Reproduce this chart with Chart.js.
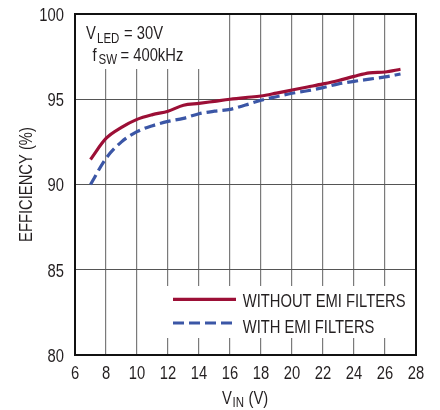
<!DOCTYPE html>
<html><head><meta charset="utf-8">
<script src="https://cdn.jsdelivr.net/npm/chart.js@4"></script>
<style>html,body{margin:0;padding:0;background:#fff}#wrap{width:440px;height:410px;position:relative}</style>
</head><body><div id="wrap"><canvas id="c" width="440" height="410"></canvas></div>
<script>
const vin = [7,8,9,10,11,12,13,14,15,16,17,18,19,20,21,22,23,24,25,26,27];
const effWithout = [91.47,92.7,93.35,93.82,94.1,94.3,94.65,94.76,94.88,95.0,95.1,95.19,95.36,95.54,95.72,95.9,96.1,96.34,96.55,96.6,96.76];
const effWith = [90.0,91.53,92.5,93.1,93.45,93.7,93.88,94.15,94.3,94.41,94.66,94.94,95.15,95.35,95.5,95.68,95.9,96.05,96.18,96.31,96.48];
const xTicks = [6,8,10,12,14,16,18,20,22,24,26,28];
const yTicks = [80,85,90,95,100];
const seriesLabels = ['WITHOUT EMI FILTERS','WITH EMI FILTERS'];

const FAMILY = '"Liberation Sans Narrow", "Arial Narrow", "Liberation Sans", Arial, sans-serif';
const SX = 0.82;   // horizontal condensing to mimic a narrow face
const TXT = '#231f20';
const RED = '#9c0f36';
const BLUE = '#3b56a6';
const GRID = '#7a7a7a';

function toPts(xs, ys){ return xs.map((x,i)=>({x:x, y:ys[i]})); }

function drawText(ctx, txt, x, y, size, align){
  ctx.save();
  ctx.font = size + 'px ' + FAMILY;
  ctx.textBaseline = 'alphabetic';
  ctx.textAlign = 'left';
  const w = ctx.measureText(txt).width * SX;
  const x0 = align === 'right' ? x - w : (align === 'center' ? x - w/2 : x);
  ctx.translate(x0, y);
  ctx.scale(SX, 1);
  ctx.fillStyle = TXT;
  ctx.fillText(txt, 0, 0);
  ctx.restore();
  return w;
}

const overlay = {
  id: 'overlay',
  beforeDatasetsDraw(chart){
    const ctx = chart.ctx;
    ctx.save();
    ctx.fillStyle = '#fff';
    ctx.fillRect(77, 15, 140, 54);      // annotation box
    ctx.fillRect(162, 286, 252, 52);    // legend box
    ctx.restore();
  },
  afterDatasetsDraw(chart){
    const ctx = chart.ctx;
    const a = chart.chartArea;
    ctx.save();
    // frame
    ctx.strokeStyle = '#111';
    ctx.lineWidth = 2;
    ctx.strokeRect(a.left, a.top, a.right - a.left, a.bottom - a.top);

    // tick labels from the scales
    const xs = chart.scales.x, ys = chart.scales.y;
    xs.ticks.forEach(t => drawText(ctx, String(t.value), xs.getPixelForValue(t.value), 379.3, 18, 'center'));
    ys.ticks.forEach(t => drawText(ctx, String(t.value), 64, ys.getPixelForValue(t.value) + 6.8, 18, 'right'));

    // annotation
    drawText(ctx, 'V', 86, 39.3, 18);
    drawText(ctx, 'LED', 97, 43.3, 14);
    drawText(ctx, '= 30V', 124, 39.3, 18);
    drawText(ctx, 'f', 92.5, 60.7, 18);
    drawText(ctx, 'SW', 98.5, 64.2, 14);
    drawText(ctx, '= 400kHz', 120.5, 60.7, 18);

    // x axis title
    drawText(ctx, 'V', 222, 403.5, 18);
    drawText(ctx, 'IN', 232.5, 407, 14);
    drawText(ctx, '(V)', 248.5, 403.5, 18);

    // y axis title
    ctx.save();
    ctx.translate(31.7, (a.top + a.bottom)/2);
    ctx.rotate(-Math.PI/2);
    drawText(ctx, 'EFFICIENCY (%)', 0, 0, 18, 'center');
    ctx.restore();

    // legend
    const ds = chart.data.datasets;
    const rows = [299.3, 323];
    const textBase = [306.5, 332.5];
    ds.forEach((d, i) => {
      ctx.save();
      ctx.strokeStyle = d.borderColor;
      ctx.lineWidth = d.borderWidth;
      ctx.setLineDash(d.borderDash || []);
      ctx.beginPath();
      ctx.moveTo(173, rows[i]);
      ctx.lineTo(236, rows[i]);
      ctx.stroke();
      ctx.restore();
      drawText(ctx, d.label, 242.7, textBase[i], 18);
    });
    ctx.restore();
  }
};

new Chart(document.getElementById('c'), {
  type: 'line',
  data: {
    datasets: [
      { label: seriesLabels[0], data: toPts(vin, effWithout), borderColor: RED, borderWidth: 3.2,
        pointRadius: 0, fill: false, cubicInterpolationMode: 'monotone' },
      { label: seriesLabels[1], data: toPts(vin, effWith), borderColor: BLUE, borderWidth: 3.2,
        borderDash: [11, 5], pointRadius: 0, fill: false, cubicInterpolationMode: 'monotone' }
    ]
  },
  options: {
    responsive: false,
    animation: false,
    devicePixelRatio: 1,
    layout: { padding: { top: 14, right: 24, left: 0, bottom: 0 } },
    plugins: { legend: { display: false }, tooltip: { enabled: false } },
    scales: {
      x: {
        type: 'linear', min: 6, max: 28,
        afterBuildTicks: s => { s.ticks = xTicks.map(v => ({ value: v })); },
        afterFit: s => { s.height = 55; },
        ticks: { display: false },
        grid: { color: c => (c.tick && (c.tick.value === 6 || c.tick.value === 28)) ? 'rgba(0,0,0,0)' : GRID,
                lineWidth: 1.2, drawTicks: false },
        border: { display: false }
      },
      y: {
        type: 'linear', min: 80, max: 100,
        afterBuildTicks: s => { s.ticks = yTicks.map(v => ({ value: v })); },
        afterFit: s => { s.width = 75; },
        ticks: { display: false },
        grid: { color: c => (c.tick && (c.tick.value === 80 || c.tick.value === 100)) ? 'rgba(0,0,0,0)' : '#555',
                lineWidth: 1, drawTicks: false },
        border: { display: false }
      }
    }
  },
  plugins: [overlay]
});
</script>
</body></html>
